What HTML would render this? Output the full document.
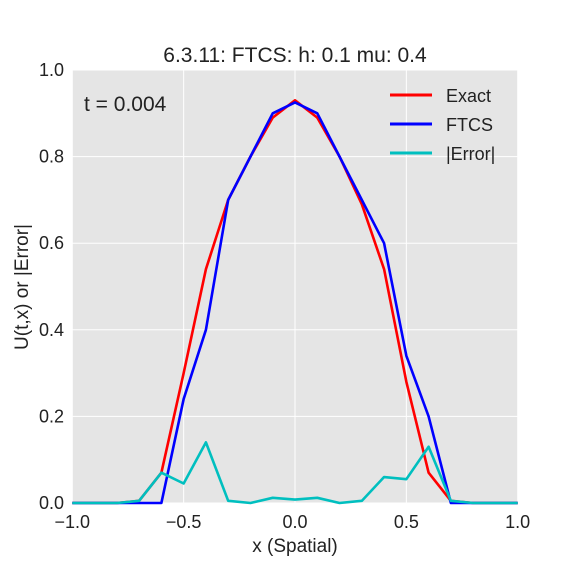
<!DOCTYPE html>
<html><head><meta charset="utf-8"><style>
body{margin:0;background:#fff}
svg{display:block;font-family:"Liberation Sans","DejaVu Sans",sans-serif}
</style></head><body>
<svg id="chart" width="576" height="576">
<rect width="576" height="576" fill="#fff"/>
<rect x="72.3" y="70" width="445.4" height="433" fill="#e5e5e5"/>
<g id="grid"></g><g id="ticks"></g><g id="lines"></g>
<text x="295" y="62" font-size="21" text-anchor="middle" fill="#222">6.3.11: FTCS: h: 0.1 mu: 0.4</text>
<text x="295" y="552" font-size="19" text-anchor="middle" fill="#222">x (Spatial)</text>
<text transform="translate(28,287) rotate(-90)" font-size="19" text-anchor="middle" fill="#222">U(t,x) or |Error|</text>
<text x="84" y="111" font-size="21" fill="#222">t = 0.004</text>
<g>
<line x1="390" y1="95" x2="432" y2="95" stroke="#f00" stroke-width="3"/>
<text x="446" y="102" font-size="18" fill="#222">Exact</text>
<line x1="390" y1="124" x2="432" y2="124" stroke="#00f" stroke-width="3"/>
<text x="446" y="131" font-size="18" fill="#222">FTCS</text>
<line x1="390" y1="153" x2="432" y2="153" stroke="#00bfbf" stroke-width="3"/>
<text x="446" y="160" font-size="18" fill="#222">|Error|</text>
</g>
</svg>
<script>
const xs=[-1,-0.9,-0.8,-0.7,-0.6,-0.5,-0.4,-0.3,-0.2,-0.1,0,0.1,0.2,0.3,0.4,0.5,0.6,0.7,0.8,0.9,1];
const exact=[0,0,0,0.005,0.07,0.30,0.54,0.70,0.80,0.89,0.93,0.89,0.80,0.69,0.54,0.28,0.07,0.005,0,0,0];
const ftcs=[0,0,0,0,0,0.24,0.40,0.70,0.80,0.90,0.925,0.90,0.80,0.70,0.60,0.34,0.20,0,0,0,0];
const err=[0,0,0,0.005,0.07,0.045,0.14,0.005,0,0.012,0.008,0.012,0,0.005,0.06,0.055,0.13,0.005,0,0,0];
const xTicks=[-1,-0.5,0,0.5,1];
const xTickLabels=["\u22121.0","\u22120.5","0.0","0.5","1.0"];
const yTicks=[0,0.2,0.4,0.6,0.8,1];
const yTickLabels=["0.0","0.2","0.4","0.6","0.8","1.0"];
const NS="http://www.w3.org/2000/svg";
const X=v=>72.3+(v+1)/2*445.4, Y=v=>503-v*433;
const grid=document.getElementById('grid'),ticks=document.getElementById('ticks'),lines=document.getElementById('lines');
function mk(tag,attrs,parent){const e=document.createElementNS(NS,tag);for(const k in attrs)e.setAttribute(k,attrs[k]);parent.appendChild(e);return e;}
xTicks.forEach((v,i)=>{
 const g=mk('line',{x1:X(v),x2:X(v),y1:70,y2:503,stroke:'#fff','stroke-width':1},grid);
 
 
 const t=mk('text',{x:X(v),y:528,'font-size':18,'text-anchor':'middle',fill:'#222'},ticks);t.textContent=xTickLabels[i];
 
 
});
yTicks.forEach((v,i)=>{
 const g=mk('line',{x1:72.3,x2:517.7,y1:Y(v),y2:Y(v),stroke:'#fff','stroke-width':1},grid);
 
 
 const t=mk('text',{x:64,y:Y(v)+6,'font-size':18,'text-anchor':'end',fill:'#222'},ticks);t.textContent=yTickLabels[i];
 
 
});
[[exact,'#f00','exact-line'],[ftcs,'#00f','ftcs-line'],[err,'#00bfbf','error-line']].forEach(([d,c,n])=>{
 const p=mk('polyline',{points:xs.map((x,i)=>X(x)+','+Y(d[i])).join(' '),fill:'none',stroke:c,'stroke-width':2.6,'stroke-linejoin':'round'},lines);
 
 
});
</script>
</body></html>
